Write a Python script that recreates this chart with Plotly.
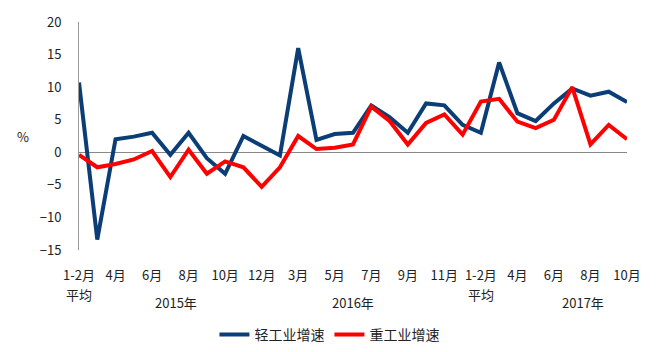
import plotly.graph_objects as go

categories = ["1-2月", "3月", "4月", "5月", "6月", "7月", "8月", "9月", "10月", "11月", "12月",
              "2016 1-2月", "2016 3月", "2016 4月", "2016 5月", "2016 6月", "2016 7月", "2016 8月", "2016 9月",
              "2016 10月", "2016 11月", "2016 12月",
              "2017 1-2月", "2017 3月", "2017 4月", "2017 5月", "2017 6月", "2017 7月", "2017 8月", "2017 9月", "2017 10月"]

light_industry = [10.7, -13.4, 2.0, 2.4, 3.0, -0.4, 3.0, -0.9, -3.3, 2.5, 1.0,
                  -0.5, 16.0, 1.9, 2.8, 3.0, 7.2, 5.4, 3.0, 7.5, 7.2, 4.2,
                  3.0, 13.8, 6.0, 4.8, 7.5, 9.8, 8.7, 9.3, 7.7]
heavy_industry = [-0.4, -2.3, -1.8, -1.1, 0.2, -3.8, 0.4, -3.3, -1.4, -2.3, -5.3,
                  -2.3, 2.5, 0.5, 0.7, 1.2, 7.0, 4.8, 1.2, 4.5, 5.8, 2.7,
                  7.8, 8.2, 4.7, 3.7, 5.0, 10.0, 1.2, 4.2, 2.0]

tick_index = list(range(0, 31, 2))
tick_text = ["1-2月", "4月", "6月", "8月", "10月", "12月", "3月", "5月", "7月", "9月", "11月",
             "1-2月", "4月", "6月", "8月", "10月"]

avg_label = "平均"
avg_pos = [0, 22]

year_labels = ["2015年", "2016年", "2017年"]
year_pos = [5.3, 15.0, 27.6]

xs = list(range(len(categories)))

fig = go.Figure()
fig.add_trace(go.Scatter(x=xs, y=light_industry, mode="lines", name="轻工业增速",
                         line=dict(color="#0B3D77", width=4)))
fig.add_trace(go.Scatter(x=xs, y=heavy_industry, mode="lines", name="重工业增速",
                         line=dict(color="#FF0000", width=4)))

font_family = "Noto Sans CJK SC, DejaVu Sans, sans-serif"

fig.update_layout(
    width=664, height=352,
    margin=dict(l=79, r=37, t=22, b=102, autoexpand=False),
    paper_bgcolor="white", plot_bgcolor="white",
    font=dict(family=font_family, size=13, color="#222"),
    showlegend=True,
    legend=dict(orientation="h", x=0.457, xanchor="center", y=-0.372, yanchor="middle",
                font=dict(size=14), tracegroupgap=0),
    xaxis=dict(range=[0, 30], tickmode="array", tickvals=tick_index, ticktext=tick_text,
               showgrid=False, zeroline=False, showline=False, ticks="",
               tickfont=dict(size=13), ticklabelstandoff=16, tickangle=0),
    yaxis=dict(range=[-15, 20], tickvals=[-15, -10, -5, 0, 5, 10, 15, 20],
               showgrid=False, zeroline=True, zerolinecolor="#888", zerolinewidth=1,
               showline=True, linecolor="#999", linewidth=1, ticks="",
               tickfont=dict(size=13), ticklabelstandoff=14),
)

for pos in avg_pos:
    fig.add_annotation(x=pos, y=-0.193, xref="x", yref="paper", text=avg_label, showarrow=False,
                       font=dict(size=13), yanchor="middle")

for lab, pos in zip(year_labels, year_pos):
    fig.add_annotation(x=pos, y=-0.232, xref="x", yref="paper", text=lab, showarrow=False,
                       font=dict(size=13), yanchor="middle")

fig.add_annotation(x=-0.103, y=0.496, xref="paper", yref="paper", text="%", showarrow=False,
                   font=dict(size=13), xanchor="center", yanchor="middle")

fig.write_html("out.html")
